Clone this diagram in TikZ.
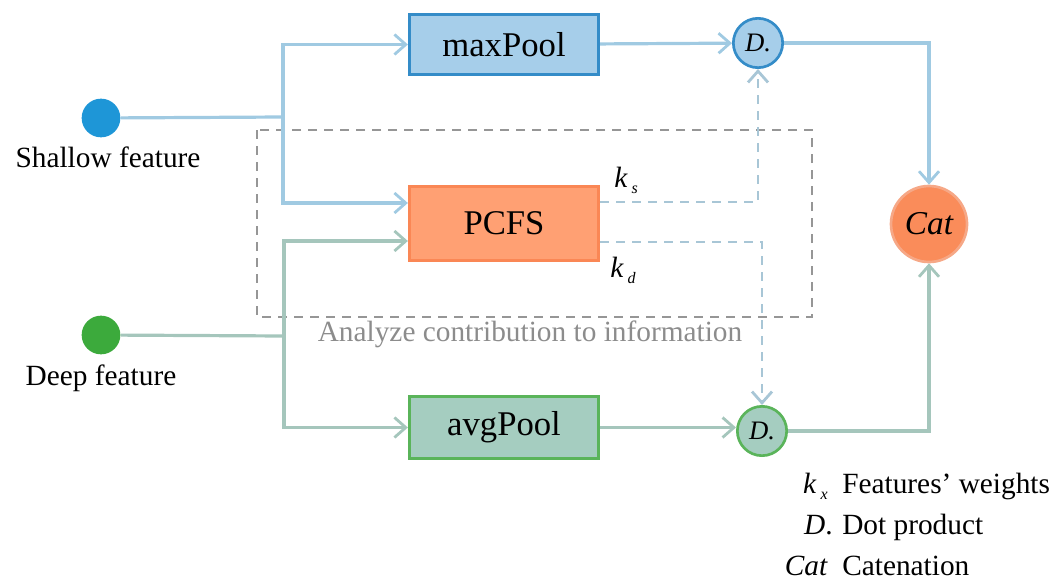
\documentclass[tikz,border=0pt]{standalone}
\usepackage{fontspec}
\setmainfont{Liberation Serif}
\usetikzlibrary{arrows.meta}
\definecolor{blline}{RGB}{160,202,226}
\definecolor{grline}{RGB}{165,198,188}
\definecolor{kline}{RGB}{168,198,214}
\definecolor{boxgray}{RGB}{150,150,150}
\definecolor{mpfill}{RGB}{166,206,234}
\definecolor{mpdraw}{RGB}{52,140,200}
\definecolor{pcfill}{RGB}{255,160,115}
\definecolor{pcdraw}{RGB}{250,135,85}
\definecolor{apfill}{RGB}{165,205,192}
\definecolor{apdraw}{RGB}{90,180,90}
\definecolor{catfill}{RGB}{250,140,90}
\definecolor{catdraw}{RGB}{246,168,135}
\definecolor{shdot}{RGB}{30,150,215}
\definecolor{dpdot}{RGB}{60,170,60}
\definecolor{antext}{RGB}{140,140,140}
\tikzset{
  conn/.style={line width=2.4pt},
  arr/.style={conn,-{Straight Barb[length=8.5pt,width=15pt,line width=2.1pt]}},
  opbox/.style={draw,line width=2.2pt,minimum width=142pt,inner sep=0pt,font=\fontsize{26}{30}\selectfont},
  dcirc/.style={circle,draw,line width=2pt,minimum size=37pt,inner sep=0pt,font=\fontsize{20}{24}\selectfont\itshape},
  fdot/.style={circle,minimum size=29pt,inner sep=0pt},
  lbl/.style={font=\fontsize{22}{26}\selectfont,inner sep=0pt},
}
\newcommand{\kw}[1]{\textit{k}\hspace{3pt}\raisebox{-5pt}{\fontsize{12}{12}\selectfont\textit{#1}}}
\begin{document}
\begin{tikzpicture}[x=0.75pt,y=-0.75pt]
\useasboundingbox (0,0) rectangle (1062,585);
% analysis box
\draw[boxgray,line width=1.8pt,dash pattern=on 7pt off 5pt] (257,130) rectangle (812,317);
\node[lbl,text=antext] (an) at (530,334) {Analyze contribution to information};
% inputs
\node[fdot,fill=shdot] (sd) at (101,118) {};
\node[lbl,anchor=base] (st) at (108,167) {Shallow feature};
\node[fdot,fill=dpdot] (dd) at (101,335) {};
\node[lbl,anchor=base] (dt) at (101,385) {Deep feature};
% ops
\node[opbox,fill=mpfill,draw=mpdraw,minimum height=45pt] (mp) at (504,44.5) {maxPool};
\node[opbox,fill=pcfill,draw=pcdraw,minimum height=55pt] (pc) at (504,223.5) {PCFS};
\node[opbox,fill=apfill,draw=apdraw,minimum height=46pt] (ap) at (504,427.5) {avgPool};
\node[dcirc,fill=mpfill,draw=mpdraw] (d1) at (758,43) {D.};
\node[dcirc,fill=apfill,draw=apdraw] (d2) at (762,431) {D.};
\node[circle,fill=catfill,draw=catdraw,line width=2pt,minimum size=57pt,inner sep=0pt,font=\fontsize{25}{30}\selectfont\itshape] (cat) at (929,224) {Cat};
% shallow connectors
\coordinate (sj) at (283,117);
\draw[conn,blline] (sd) -- (sj);
\draw[arr,blline] (sj) |- (mp);
\draw[arr,blline] (sj) |- (pc.west |- 0,203);
% deep connectors
\coordinate (dj) at (284,336);
\draw[conn,grline] (dd) -- (dj);
\draw[arr,grline] (dj) |- (pc.west |- 0,241);
\draw[arr,grline] (dj) |- (ap);
% pool -> dot
\draw[arr,blline] (mp) -- (d1);
\draw[arr,grline] (ap) -- (d2.west |- ap);
% weights
\draw[arr,kline,line width=2pt,dash pattern=on 7pt off 5pt] (pc.east |- 0,202) -| (d1);
\draw[arr,kline,line width=2pt,dash pattern=on 7pt off 5pt] (pc.east |- 0,242) -| (d2);
\node[lbl,anchor=base west] (ks) at (614,187) {\kw{s}};
\node[lbl,anchor=base west] (kd) at (610,277) {\kw{d}};
% to cat
\draw[arr,blline] (d1) -| (cat);
\draw[arr,grline] (d2) -| (cat);
% legend
\node[lbl,anchor=base east] (l1s) at (828,493) {\kw{x}};
\node[lbl,anchor=base west] (l1t) at (842,493) {Features' weights};
\node[lbl,anchor=base east] (l2s) at (833,534) {\textit{D}.};
\node[lbl,anchor=base west] (l2t) at (842,534) {Dot product};
\node[lbl,anchor=base east] (l3s) at (828,575) {\textit{Cat}};
\node[lbl,anchor=base west] (l3t) at (842,575) {Catenation};
\end{tikzpicture}
\end{document}
